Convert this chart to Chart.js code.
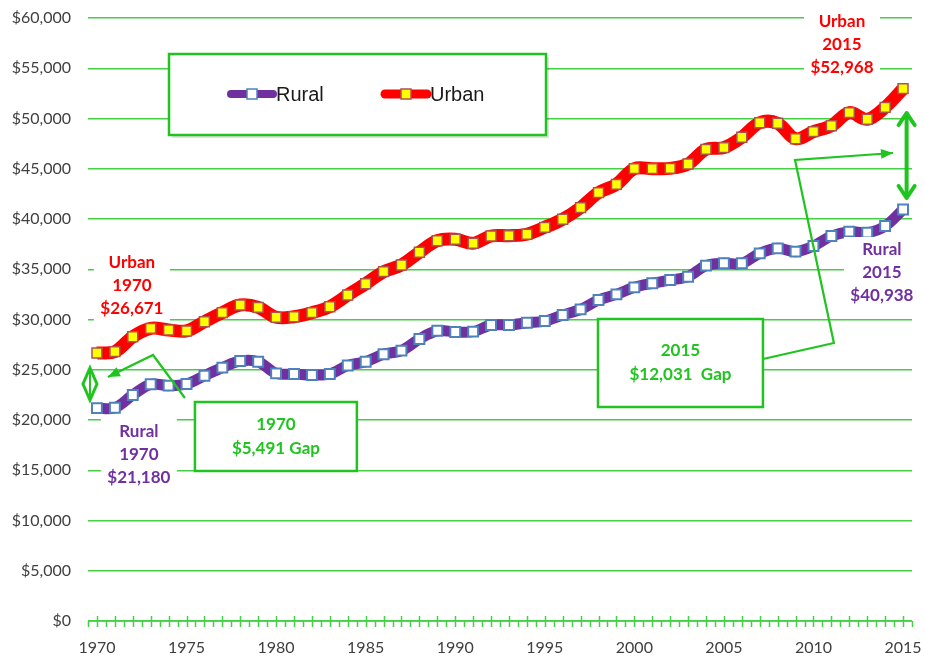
<!DOCTYPE html>
<html><head><meta charset="utf-8">
<script src="https://cdn.jsdelivr.net/npm/chart.js@4.4.1/dist/chart.umd.min.js"></script>
<style>html,body{margin:0;padding:0;background:#fff}#wrap{width:925px;height:657px;position:relative}</style>
</head><body><div id="wrap"><canvas id="c"></canvas></div>
<script>
// ---- data ----
const years = [1970,1971,1972,1973,1974,1975,1976,1977,1978,1979,1980,1981,1982,1983,1984,1985,1986,1987,1988,1989,1990,1991,1992,1993,1994,1995,1996,1997,1998,1999,2000,2001,2002,2003,2004,2005,2006,2007,2008,2009,2010,2011,2012,2013,2014,2015];
const rural = [21180,21220,22490,23550,23420,23580,24410,25210,25870,25800,24640,24580,24480,24580,25420,25800,26540,26900,28060,28880,28760,28790,29450,29450,29680,29850,30450,31010,31940,32500,33200,33600,33930,34260,35360,35590,35590,36580,37080,36750,37310,38310,38740,38640,39300,40938];
const urban = [26671,26800,28290,29120,28960,28860,29780,30680,31440,31210,30220,30280,30680,31270,32440,33560,34760,35420,36690,37840,37980,37580,38310,38340,38480,39170,39970,41130,42620,43450,45010,45010,45040,45470,46930,47100,48130,49580,49520,47990,48690,49280,50580,49920,51110,52968];
const seriesNames = ['Rural','Urban'];
const yTicks = [0,5000,10000,15000,20000,25000,30000,35000,40000,45000,50000,55000,60000];
const xLabelYears = [1970,1975,1980,1985,1990,1995,2000,2005,2010,2015];
const gapText1970 = ['1970','$5,491 Gap'];
const gapText2015 = ['2015','$12,031  Gap'];

// ---- styles ----
const GREEN_GRID = '#44CF44';
const GREEN = '#1FC41F';
const RED = '#FF0000';
const PURPLE = '#7030A0';
const TXT = '#404040';
const fmt = v => '$' + v.toLocaleString('en-US');

const overlay = {
  id: 'overlay',
  afterDraw(chart) {
    const {ctx, chartArea: ca, scales: {x, y}} = chart;
    const X = yr => x.getPixelForValue(yr - years[0]);
    const Y = v => y.getPixelForValue(v);
    ctx.save();

    // x axis line + tick marks
    ctx.strokeStyle = GREEN_GRID; ctx.lineWidth = 1.5;
    ctx.beginPath(); ctx.moveTo(ca.left, ca.bottom); ctx.lineTo(ca.right, ca.bottom); ctx.stroke();
    ctx.beginPath();
    years.forEach((yr) => { const px = Math.round(X(yr)) + 0.5; ctx.moveTo(px, ca.bottom - 5); ctx.lineTo(px, ca.bottom + 6); });
    for (let i = 0; i <= years.length; i++) { const px = Math.round(X(years[0] - 0.5 + i)) + 0.5; ctx.moveTo(px, ca.bottom); ctx.lineTo(px, ca.bottom + 6); }
    ctx.stroke();

    // legend box
    const lx = ca.left + 81, ly = ca.top + 36, lw = 377, lh = 81;
    ctx.fillStyle = 'rgba(0,0,0,0.12)'; ctx.fillRect(lx + 3, ly + 3, lw, lh);
    ctx.fillStyle = '#fff'; ctx.fillRect(lx, ly, lw, lh);
    ctx.strokeStyle = GREEN; ctx.lineWidth = 2.5; ctx.strokeRect(lx, ly, lw, lh);
    const legendItem = (x0, color, lwid, fill, border, label) => {
      const cy = ly + 40;
      ctx.strokeStyle = color; ctx.lineWidth = lwid; ctx.lineCap = 'round';
      ctx.beginPath(); ctx.moveTo(x0, cy); ctx.lineTo(x0 + 42, cy); ctx.stroke();
      ctx.lineCap = 'butt';
      ctx.fillStyle = fill; ctx.fillRect(x0 + 16, cy - 5, 10, 10);
      ctx.strokeStyle = border; ctx.lineWidth = 1.5; ctx.strokeRect(x0 + 16, cy - 5, 10, 10);
      ctx.fillStyle = '#1a1a1a'; ctx.font = '20px "Liberation Sans", Arial, sans-serif';
      ctx.textAlign = 'left'; ctx.textBaseline = 'middle';
      ctx.fillText(label, x0 + 45, cy + 1);
    };
    legendItem(lx + 62, PURPLE, 8, '#fff', '#4F81BD', seriesNames[0]);
    legendItem(lx + 216, RED, 9, '#FFFF00', '#B0504D', seriesNames[1]);

    // value labels with white boxes
    const notes = [
      {lines: ['Urban', '1970', fmt(urban[0])], yr: 1971.95, v: 33430, color: RED},
      {lines: ['Rural', '1970', fmt(rural[0])], yr: 1972.34, v: 16517, color: PURPLE},
      {lines: ['Urban', '2015', fmt(urban[urban.length - 1])], yr: 2011.59, v: 57312, color: RED},
      {lines: ['Rural', '2015', fmt(rural[rural.length - 1])], yr: 2013.82, v: 34626, color: PURPLE},
    ];
    ctx.font = 'bold 17px Lato, sans-serif'; ctx.textAlign = 'center'; ctx.textBaseline = 'middle';
    notes.forEach(n => {
      const cx = X(n.yr), cy = Y(n.v);
      ctx.fillStyle = '#fff'; ctx.fillRect(cx - 38, cy - 36, 76, 72);
      ctx.fillStyle = n.color;
      n.lines.forEach((t, i) => ctx.fillText(t, cx, cy + (i - 1) * 23));
    });

    // gap boxes
    const gapBox = (yr0, yr1, v0, v1, lines) => {
      const x0 = X(yr0), x1 = X(yr1), y0 = Y(v0), y1 = Y(v1);
      ctx.fillStyle = '#fff'; ctx.fillRect(x0, y0, x1 - x0, y1 - y0);
      ctx.strokeStyle = GREEN; ctx.lineWidth = 2.5; ctx.strokeRect(x0, y0, x1 - x0, y1 - y0);
      ctx.fillStyle = GREEN; ctx.font = 'bold 17px Lato, sans-serif';
      const cx = (x0 + x1) / 2, cy = (y0 + y1) / 2;
      ctx.fillText(lines[0], cx, cy - 12);
      ctx.fillText(lines[1], cx, cy + 12);
    };
    gapBox(1975.47, 1984.51, 21790, 14925, gapText1970);
    gapBox(1997.97, 2007.18, 30049, 21293, gapText2015);

    // callout lines
    const callout = (pts) => {
      ctx.strokeStyle = GREEN; ctx.fillStyle = GREEN; ctx.lineWidth = 2.2; ctx.lineJoin = 'miter';
      ctx.beginPath();
      pts.forEach((p, i) => { const px = X(p[0]), py = Y(p[1]); i ? ctx.lineTo(px, py) : ctx.moveTo(px, py); });
      ctx.stroke();
      const a = pts[pts.length - 2], b = pts[pts.length - 1];
      const ax = X(a[0]), ay = Y(a[1]), bx = X(b[0]), by = Y(b[1]);
      const ang = Math.atan2(by - ay, bx - ax), L = 12, W = 5;
      ctx.beginPath(); ctx.moveTo(bx, by);
      ctx.lineTo(bx - L * Math.cos(ang) + W * Math.sin(ang), by - L * Math.sin(ang) - W * Math.cos(ang));
      ctx.lineTo(bx - L * Math.cos(ang) - W * Math.sin(ang), by - L * Math.sin(ang) + W * Math.cos(ang));
      ctx.closePath(); ctx.fill();
    };
    callout([[1974.91, 22189], [1973.13, 26467], [1970.61, 24278]]);
    callout([[2007.18, 26069], [2011.14, 27661], [2008.97, 45870], [2014.44, 46566]]);

    // small diamond double arrow at 1970
    {
      const cx = X(1969.61), t = Y(25174), b = Y(21990), m = (t + b) / 2;
      ctx.strokeStyle = GREEN; ctx.lineWidth = 3; ctx.lineJoin = 'miter';
      ctx.beginPath(); ctx.moveTo(cx, t); ctx.lineTo(cx + 7, m); ctx.lineTo(cx, b); ctx.lineTo(cx - 7, m); ctx.closePath(); ctx.stroke();
      ctx.lineWidth = 2; ctx.beginPath(); ctx.moveTo(cx, t); ctx.lineTo(cx, b); ctx.stroke();
    }
    // big double arrow at 2015
    {
      const cx = X(2015.2), t = Y(50546), b = Y(42089);
      ctx.strokeStyle = GREEN; ctx.lineWidth = 4; ctx.lineCap = 'round'; ctx.lineJoin = 'round';
      ctx.beginPath(); ctx.moveTo(cx, t + 2); ctx.lineTo(cx, b - 2); ctx.stroke();
      ctx.beginPath(); ctx.moveTo(cx - 8, t + 12); ctx.lineTo(cx, t); ctx.lineTo(cx + 8, t + 12); ctx.stroke();
      ctx.beginPath(); ctx.moveTo(cx - 8, b - 12); ctx.lineTo(cx, b); ctx.lineTo(cx + 8, b - 12); ctx.stroke();
    }
    ctx.restore();
  }
};

new Chart(document.getElementById('c'), {
  type: 'line',
  data: {
    labels: years.map(String),
    datasets: [
      {label: seriesNames[0], data: rural, borderColor: PURPLE, borderWidth: 11, tension: 0.35,
       pointStyle: 'rect', pointRadius: 7, pointBackgroundColor: '#FFFFFF', pointBorderColor: '#4F81BD', pointBorderWidth: 2, fill: false},
      {label: seriesNames[1], data: urban, borderColor: RED, borderWidth: 13, tension: 0.35,
       pointStyle: 'rect', pointRadius: 7, pointBackgroundColor: '#FFFF00', pointBorderColor: '#B0504D', pointBorderWidth: 1.5, fill: false}
    ]
  },
  options: {
    responsive: true, maintainAspectRatio: false, animation: false, devicePixelRatio: 1,
    layout: {padding: {top: 18, right: 13, left: 0, bottom: 0}},
    plugins: {legend: {display: false}, tooltip: {enabled: false}},
    scales: {
      x: {
        type: 'category', offset: true,
        grid: {display: false, drawTicks: false}, border: {display: false},
        afterFit: s => { s.height = 36; s.paddingLeft = 0; s.paddingRight = 0; },
        ticks: {autoSkip: false, maxRotation: 0, padding: 17, color: TXT, font: {family: 'Lato', size: 16},
          callback: (v, i) => xLabelYears.includes(years[i]) ? String(years[i]) : ''}
      },
      y: {
        min: yTicks[0], max: yTicks[yTicks.length - 1],
        afterBuildTicks: s => { s.ticks = yTicks.map(v => ({value: v})); },
        afterFit: s => { s.width = 88; s.paddingTop = 0; s.paddingBottom = 0; },
        grid: {color: GREEN_GRID, lineWidth: 1.5, drawTicks: false},
        border: {display: false},
        ticks: {padding: 17, color: TXT, font: {family: 'Lato', size: 16}, callback: v => fmt(v)}
      }
    }
  },
  plugins: [overlay]
});
</script></body></html>
